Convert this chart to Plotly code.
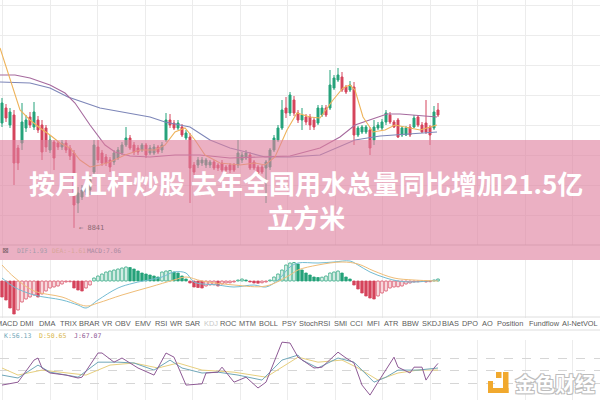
import plotly.graph_objects as go

# ---------------- data ----------------
idx = list(range(110))
open_ = [9890, 10040, 9870, 9970, 9640, 9690, 9840, 9950, 9850, 9920,
         9870, 9840, 9620, 9700, 9690, 9650, 9690, 9640, 9590, 9090,
         9150, 9200, 9220, 9400, 9650, 9590, 9550, 9520, 9500, 9540,
         9590, 9670, 9740, 9670, 9640, 9620, 9670, 9590, 9590, 9650,
         9620, 9720, 9920, 9890, 9840, 9850, 9740, 9750, 9470, 9470,
         9490, 9470, 9470, 9500, 9470, 9490, 9450, 9470, 9470, 9470,
         9520, 9540, 9570, 9500, 9450, 9450, 9440, 9450, 9620, 9720,
         9840, 10040, 9990, 10120, 9990, 9920, 9950, 9950, 9920, 9890,
         9970, 10040, 10040, 10240, 10320, 10350, 10250, 10220, 10250, 9770,
         9800, 9800, 9820, 9720, 9840, 9840, 9900, 9970, 9900, 9920,
         9770, 9770, 9850, 9850, 9950, 9870, 9890, 9850, 9840, 10020]
close = [10090, 9940, 10000, 9490, 9490, 9900, 9920, 9870, 10000, 9820,
         9600, 9650, 9720, 9540, 9650, 9690, 9620, 9560, 9070, 9190,
         9220, 9250, 9320, 9670, 9520, 9490, 9490, 9450, 9590, 9620,
         9670, 9740, 9640, 9600, 9600, 9670, 9570, 9640, 9650, 9600,
         9670, 9920, 9870, 9840, 9890, 9770, 9790, 9440, 9400, 9520,
         9520, 9520, 9500, 9440, 9440, 9420, 9420, 9420, 9420, 9590,
         9570, 9590, 9440, 9440, 9390, 9400, 9500, 9620, 9740, 9840,
         10020, 9990, 10170, 9990, 9920, 9970, 9900, 9870, 9850, 10040,
         10040, 9970, 10270, 10340, 10370, 10220, 10200, 10270, 9770, 9840,
         9850, 9850, 9640, 9850, 9870, 9900, 9990, 9900, 9850, 9750,
         9840, 9840, 9770, 9940, 9870, 9800, 9800, 9770, 10000, 9970]
high = [10140, 10080, 10040, 10020, 9670, 10090, 9970, 10000, 10100, 9960,
        9920, 9870, 9770, 9720, 9710, 9720, 9720, 9670, 9620, 9250,
        9270, 9290, 9370, 9720, 9720, 9620, 9580, 9550, 9620, 9650,
        9700, 9850, 9770, 9700, 9670, 9690, 9690, 9670, 9680, 9670,
        9700, 9990, 9980, 9920, 9920, 9880, 9820, 9790, 9500, 9550,
        9550, 9540, 9520, 9520, 9490, 9520, 9470, 9490, 9490, 9720,
        9600, 9620, 9600, 9520, 9470, 9470, 9520, 9640, 9770, 9870,
        10120, 10150, 10200, 10160, 10020, 10040, 9980, 9980, 9950, 10070,
        10070, 10070, 10420, 10370, 10440, 10400, 10270, 10310, 10300, 9860,
        9870, 9870, 9850, 9920, 9900, 9930, 10020, 10000, 9920, 9940,
        9860, 9860, 9880, 9970, 9970, 9900, 10120, 9870, 10060, 10090]
low = [9850, 9900, 9840, 9270, 9420, 9620, 9800, 9840, 9820, 9790,
       9520, 9600, 9590, 9420, 9620, 9620, 9590, 9520, 8841, 8990,
       9120, 9170, 9170, 9370, 9490, 9460, 9460, 9400, 9470, 9520,
       9570, 9650, 9620, 9570, 9570, 9600, 9540, 9570, 9570, 9580,
       9590, 9700, 9840, 9820, 9820, 9750, 9720, 9090, 9370, 9440,
       9460, 9440, 9440, 9420, 9410, 9400, 9400, 9390, 9400, 9440,
       9490, 9520, 9420, 9420, 9370, 9380, 9090, 9420, 9600, 9700,
       9820, 9940, 9960, 9960, 9890, 9820, 9870, 9820, 9820, 9870,
       9950, 9950, 10020, 10220, 10300, 10200, 10180, 10200, 9670, 9750,
       9780, 9780, 9570, 9670, 9820, 9820, 9870, 9880, 9840, 9740,
       9750, 9760, 9750, 9840, 9850, 9790, 9780, 9670, 9820, 9950]
low_label = "8841"

# moving averages (candle index, value)
ma_short_x = [-0.5, 2, 4.5, 7, 9.5, 12, 14.5, 17, 19.5, 22, 24.5, 27, 30.75, 34.5, 38.25,
              40.75, 43.25, 45.75, 48.25, 50.75, 54.5, 59.5, 63.25, 65.75, 68.25, 71.25,
              73.75, 77, 79.5, 82.75, 85.25, 87, 88.25, 90.25, 92.75, 95.75, 98.25, 102,
              104.5, 108.75]
ma_short = [10640, 10320, 10020, 9920, 9840, 9770, 9690, 9640, 9520, 9450, 9470, 9500,
            9570, 9620, 9620, 9670, 9800, 9840, 9720, 9570, 9490, 9470, 9490, 9470, 9550,
            9820, 9990, 9950, 9940, 10120, 10240, 10270, 10220, 9950, 9800, 9820, 9870,
            9840, 9820, 9870]
ma_mid_x = [-0.5, 3.25, 7, 12, 15.75, 18.25, 22, 25.75, 28.25, 32, 37, 43.25, 49.5, 57,
            64.5, 72, 79.5, 84.5, 88.25, 92, 96.25, 99.5, 104.5, 108.75]
ma_mid = [10370, 10370, 10340, 10270, 10190, 10090, 9870, 9670, 9600, 9560, 9550, 9570,
          9570, 9540, 9550, 9560, 9640, 9750, 9870, 9920, 9980, 9980, 9960, 9950]
ma_long_x = [-0.5, 7, 12, 16.5, 24.5, 32, 37, 40.75, 47, 52, 57, 62, 65.75, 72, 79.5,
             88.25, 94.5, 108.75]
ma_long = [10300, 10290, 10240, 10150, 10040, 9990, 9950, 9900, 9850, 9720, 9640, 9590,
           9550, 9550, 9570, 9720, 9760, 9800]

macd_hist = [-16, -19, -27, -33, -29, -21, -18, -16, -14, -16,
             -13, -10, -7, -6, -5, -3, -1, -0.8, -7, -9,
             -10, -7, -4, 3, 5, 7, 9, 10, 11, 12,
             13, 14, 13.5, 12, 10, 8, 7, 6, 5, 4,
             9, 10, 10.5, 9, 8, 5, 2, -2, -6, -6.5,
             -7, -5, -4, -3.8, -5, -3, -2, -1.8, -1, 1,
             2, 1, -1, -2, -2.2, -1.8, -1, 1, 4, 7,
             11, 16, 18, 18.5, 17, 11, 8, 6, 4, 3.5,
             3.8, 5, 8, 9, 10, 8, 4, 2, -4, -8,
             -12, -15, -17, -18, -15, -12, -10, -7, -6, -5.8,
             -5, -3, -2, -1, -0.8, -0.5, -1, -0.7, 1, 2]
dif_x = [0, 3, 8, 15, 19, 21, 24, 29, 33, 40, 43, 46, 48, 54, 58, 63, 66, 69, 72, 74,
         79, 83, 87, 89, 92, 96, 99, 103, 109]
dif = [3, -6, -14, -19, -24, -27, -19, -7, -2, 4, 9, 8, -1, -4, -6, -4, -6, 1, 14, 18,
       18, 19, 20, 16, 9, 3, 0, -1, 1]
dea_x = [0, 3, 8, 15, 21, 24, 30, 37, 43, 46, 50, 58, 66, 72, 74, 79, 85, 89, 93, 98,
         103, 109]
dea = [16, 4, -10, -16, -25, -22, -14, -6, 1, 4, 0, -4, -5, 6, 11, 16, 19, 17, 10, 3, 1, 0]
macd_labels = ["DIF:1.93", "DEA:-1.61", "MACD:7.06"]

k_x = [0, 4, 9, 12, 19, 24, 29, 33, 38, 42, 45, 50, 54, 59, 65, 70, 74, 75, 79, 84, 88,
       93, 96, 99, 104, 109]
k_val = [39, 32, 63, 46, 34, 70, 70, 68, 51, 75, 56, 44, 46, 39, 27, 75, 87, 75, 56, 80,
         70, 22, 34, 51, 51, 56]
d_x = [0, 4, 10, 16, 21, 27, 33, 39, 44, 50, 58, 66, 71, 74, 79, 85, 89, 94, 99, 104, 109]
d_val = [56, 39, 51, 44, 39, 63, 68, 56, 68, 51, 46, 34, 63, 82, 70, 75, 56, 27, 44, 51, 51]
j_x = [0, 4, 8, 9, 10, 12, 16, 19, 20, 24, 25, 28, 30, 34, 38, 41, 43, 46, 50, 51, 54,
       55, 58, 61, 64, 66, 70, 72, 74, 78, 80, 84, 86, 88, 90, 92, 94, 98, 99, 102, 103,
       105, 106, 108, 109]
j_val = [15, 22, 75, 80, 56, 44, 39, 32, 34, 92, 92, 70, 80, 56, 39, 92, 82, 15, 18, 44,
         46, 58, 22, 34, 8, 22, 118, 116, 82, 56, 58, 94, 80, 68, 15, -9, 22, 82, 58, 44,
         58, 58, 27, 56, 67]
kdj_labels = ["K:56.13", "D:50.65", "J:67.07"]

tabs = ["MACD", "DMI", "DMA", "TRIX", "BRAR", "VR", "OBV", "EMV", "RSI", "WR", "SAR",
        "KDJ", "ROC", "MTM", "BOLL", "PSY", "StochRSI", "SMI", "CCI", "MFI", "ATR", "BBW",
        "SKDJ", "BIAS", "DPO", "AO", "Position", "Fundflow", "AI-NetVOL"]

title_text = "按月杠杆炒股 去年全国用水总量同比增加21.5亿<br>立方米"
brand = "金色财经"

# ---------------- layout helpers ----------------
W, H = 600, 400
def PX(x):
    return x / W
def PY(y):
    return 1 - y / H

tab_left = [-6, 18, 37, 58, 77, 100, 113, 133, 153, 168, 183, 202, 218, 237, 257, 280,
            297, 332, 348, 365, 382, 400, 420, 440, 460, 480, 495, 527, 560]

GREEN = "#25a27a"
RED = "#d5445c"
GRID = "#ececec"

fig = go.Figure()

fig.add_trace(go.Candlestick(
    x=idx, open=open_, high=high, low=low, close=close,
    increasing=dict(line=dict(color=GREEN, width=1), fillcolor=GREEN),
    decreasing=dict(line=dict(color=RED, width=1), fillcolor=RED),
    whiskerwidth=0, xaxis="x", yaxis="y", showlegend=False, hoverinfo="skip"))

for xs, ys, col in [(ma_long_x, ma_long, "#7d86b8"), (ma_mid_x, ma_mid, "#a66a9e"),
                    (ma_short_x, ma_short, "#eeb35a")]:
    fig.add_trace(go.Scatter(x=xs, y=ys, mode="lines", line=dict(color=col, width=1.1),
                             xaxis="x", yaxis="y", showlegend=False, hoverinfo="skip"))

# MACD histogram: filled when falling, hollow when rising
fills, lines = [], []
for i, v in enumerate(macd_hist):
    base = GREEN if v >= 0 else RED
    rising = i > 0 and v > macd_hist[i - 1]
    lines.append(base)
    fills.append("white" if rising else base)
fig.add_trace(go.Bar(x=idx, y=macd_hist, width=0.62,
                     marker=dict(color=fills, line=dict(color=lines, width=0.8)),
                     xaxis="x2", yaxis="y2", showlegend=False, hoverinfo="skip"))
fig.add_trace(go.Scatter(x=dif_x, y=dif, mode="lines", line=dict(color="#74bcd2", width=1, shape="spline"),
                         xaxis="x2", yaxis="y2", showlegend=False, hoverinfo="skip"))
fig.add_trace(go.Scatter(x=dea_x, y=dea, mode="lines", line=dict(color="#efbd78", width=1, shape="spline"),
                         xaxis="x2", yaxis="y2", showlegend=False, hoverinfo="skip"))

for xs, ys, col in [(d_x, d_val, "#e7cf7e"), (k_x, k_val, "#6fa6b8"), (j_x, j_val, "#8e5a95")]:
    fig.add_trace(go.Scatter(x=xs, y=ys, mode="lines", line=dict(color=col, width=1),
                             xaxis="x3", yaxis="y3", showlegend=False, hoverinfo="skip"))

xcommon = dict(range=[-0.5, 149.5], showticklabels=False, showgrid=True, gridcolor=GRID,
               gridwidth=1, tick0=12, dtick=11.875, zeroline=False, showline=False, ticks="")
fig.update_layout(
    width=W, height=H, margin=dict(l=0, r=0, t=0, b=0),
    paper_bgcolor="white", plot_bgcolor="white",
    xaxis=dict(**xcommon, anchor="y", domain=[0, 1], rangeslider=dict(visible=False)),
    xaxis2=dict(**xcommon, anchor="y2", domain=[0, 1], matches="x"),
    xaxis3=dict(**xcommon, anchor="y3", domain=[0, 1], matches="x"),
    yaxis=dict(domain=[PY(245), 1], range=[8670, 11120], showticklabels=False, showgrid=True,
               gridcolor=GRID, tick0=11070, dtick=300, zeroline=False, ticks=""),
    yaxis2=dict(domain=[PY(318), PY(260)], range=[-37, 21], showticklabels=False,
                showgrid=False, zeroline=False, ticks=""),
    yaxis3=dict(domain=[0, PY(340)], range=[-20.8, 123.2], showticklabels=False,
                tickvals=[20, 50, 80], showgrid=True, gridcolor="#d6d6d6", griddash="dash",
                zeroline=False, ticks=""),
    bargap=0.3,
)

shapes = []
# panel separators / tab bar
for y, c in [(245, "#d0d0d0"), (317, "#dedede"), (330, "#dedede")]:
    shapes.append(dict(type="line", xref="paper", yref="paper", x0=0, x1=1, y0=PY(y), y1=PY(y),
                       line=dict(color=c, width=1)))
# pink banner
shapes.append(dict(type="rect", xref="paper", yref="paper", x0=0, x1=1, y0=PY(260), y1=PY(140),
                   fillcolor="rgba(222,128,158,0.62)", line=dict(width=0)))
# watermark icon
ORANGE = "#f1a92e"
for x0, y0, x1, y1 in [(503, 372, 508.5, 393), (488, 388, 508.5, 393), (488, 381, 493, 393),
                       (496, 372, 501.5, 378)]:
    shapes.append(dict(type="rect", xref="paper", yref="paper", x0=PX(x0), x1=PX(x1),
                       y0=PY(y1), y1=PY(y0), fillcolor=ORANGE, line=dict(width=0)))
fig.update_layout(shapes=shapes)

ann = []
ann.append(dict(text=title_text, x=PX(306), y=PY(199), xref="paper", yref="paper",
                xanchor="center", yanchor="middle", showarrow=False, align="center",
                font=dict(family="Noto Sans CJK SC", size=26, color="white", weight="bold")))
ann.append(dict(text="← " + low_label, x=PX(77), y=PY(228), xref="paper", yref="paper",
                xanchor="left", yanchor="middle", showarrow=False,
                font=dict(family="DejaVu Sans Mono", size=7, color="#8a6a74")))
ann.append(dict(text="⊠", x=PX(0), y=PY(251), xref="paper", yref="paper", xanchor="left",
                yanchor="middle", showarrow=False, font=dict(family="DejaVu Sans", size=8, color="#7a6068")))
for t, xp, c in zip(macd_labels, [15, 50, 85], ["#a39aa8", "#d8a69a", "#a98aa0"]):
    ann.append(dict(text=t, x=PX(xp), y=PY(251), xref="paper", yref="paper", xanchor="left",
                    yanchor="middle", showarrow=False,
                    font=dict(family="DejaVu Sans Mono", size=6.3, color=c)))
for t, xp in zip(tabs, tab_left):
    ann.append(dict(text=t, x=PX(xp), y=PY(323.5), xref="paper", yref="paper", xanchor="left",
                    yanchor="middle", showarrow=False,
                    font=dict(family="Liberation Sans", size=7.4,
                              color="#c8c8c8" if t == "KDJ" else "#5a5a5a")))
for t, xp, c in zip(kdj_labels, [2, 37, 72], ["#6fa6b8", "#d9b850", "#8e5a95"]):
    ann.append(dict(text=t, x=PX(xp), y=PY(335.5), xref="paper", yref="paper", xanchor="left",
                    yanchor="middle", showarrow=False,
                    font=dict(family="DejaVu Sans Mono", size=6.5, color=c)))
ann.append(dict(text=brand, x=PX(513), y=PY(383), xref="paper", yref="paper", xanchor="left",
                yanchor="middle", showarrow=False,
                font=dict(family="Noto Sans CJK SC", size=20, color="white", weight="bold",
                          shadow="-1px -1px 0 #bdbdbd, 1px -1px 0 #bdbdbd, -1px 1px 0 #bdbdbd, 1px 1px 0 #bdbdbd")))
fig.update_layout(annotations=ann)

fig.write_html("out.html", config={"displayModeBar": False},
               post_script="document.body.style.margin='0';document.body.style.overflow='hidden';")
